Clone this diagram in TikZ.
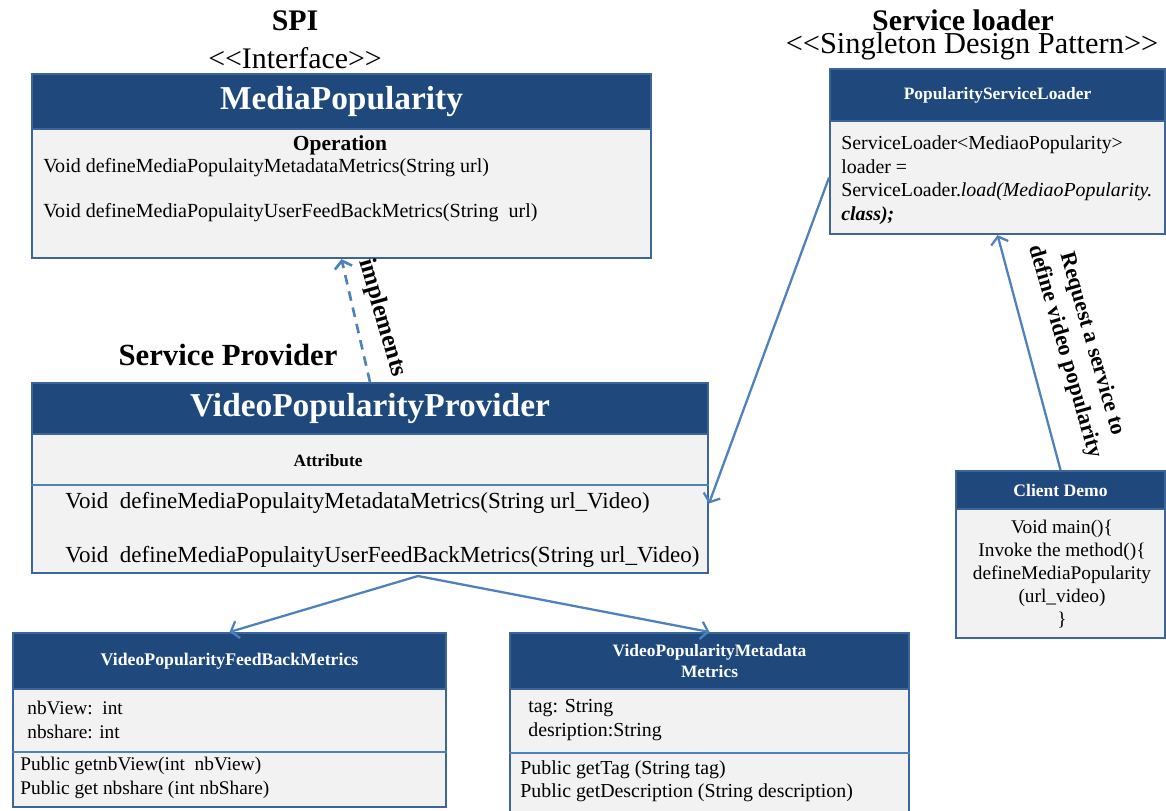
\documentclass[tikz,border=0pt]{standalone}
\usepackage{fontspec}
\setmainfont{Liberation Serif}[Ligatures=TeXOff]
\usepackage{xcolor}
\definecolor{umlHead}{HTML}{1F497D}
\definecolor{umlBody}{HTML}{F2F2F2}
\definecolor{umlEdge}{HTML}{3C659A}
\definecolor{umlLink}{HTML}{4F81BD}
\usetikzlibrary{arrows.meta}

\newcommand{\fs}[1]{\fontsize{#1}{1.2\dimexpr #1\relax}\selectfont}

\tikzset{
  classhead/.style={draw=umlEdge, line width=1.2pt, fill=umlHead, text=white,
    anchor=north west, inner sep=0pt, align=center},
  classbody/.style={draw=umlEdge, line width=1.2pt, fill=umlBody,
    anchor=north west, inner sep=0pt},
  member/.style={anchor=west, inner sep=0pt, align=left},
  sepline/.style={draw=umlLink, line width=1pt},
  link/.style={draw=umlLink, line width=1.3pt, -{Straight Barb[length=4pt,width=10pt]}},
  implink/.style={link, line width=1.5pt, dash pattern=on 5.5pt off 4pt},
}

\begin{document}
\begin{tikzpicture}[x=0.02cm, y=-0.02cm]
  \useasboundingbox (0,0) rectangle (1166,811);

  % SPI interface
  \node[font=\bfseries\fs{17pt}] (spi) at (295,21) {SPI};
  \node[font=\fs{17pt}] (spikind) at (295,58) {<<Interface>>};
  \node[classhead, minimum width=12.38cm, minimum height=1.1cm, font=\bfseries\fs{19pt}]
    (mediahead) at (31,73) {MediaPopularity};
  \node[classbody, minimum width=12.38cm, minimum height=2.58cm] (mediabody) at (31,128) {};
  \node[font=\bfseries\fs{12.2pt}] (mediaop) at (340,145) {Operation};
  \node[member, font=\fs{11.4pt}] (mediaop1) at (43,168) {Void defineMediaPopulaityMetadataMetrics(String url)};
  \node[member, font=\fs{11.4pt}] (mediaop2) at (43,213) {Void defineMediaPopulaityUserFeedBackMetrics(String\ \ url)};

  % service loader
  \node[font=\bfseries\fs{17pt}] (loadtitle) at (963,20) {Service loader};
  \node[font=\fs{17.3pt}] (loadkind) at (972,46) {<<Singleton Design Pattern>>};
  \node[classhead, minimum width=6.7cm, minimum height=1.04cm, font=\bfseries\fs{9.9pt}]
    (loadhead) at (829,68) {PopularityServiceLoader};
  \node[classbody, minimum width=6.7cm, minimum height=2.26cm] (loadbody) at (829,120) {};
  \node[member, font=\fontsize{11.3pt}{13.4pt}\selectfont] (loadcode) at (841,180)
    {ServiceLoader<MediaoPopularity>\\ loader =\\
     ServiceLoader.\textit{load(MediaoPopularity.}\\ \textbf{\textit{class);}}};

  % service provider
  \node[font=\bfseries\fs{17.5pt}] (provtitle) at (228,355) {Service Provider};
  \node[classhead, minimum width=13.52cm, minimum height=1.02cm, font=\bfseries\fs{19pt}]
    (provhead) at (31,382) {VideoPopularityProvider};
  \node[classbody, minimum width=13.52cm, minimum height=2.78cm] (provbody) at (31,433) {};
  \coordinate (provsep) at (0,485);
  \draw[sepline] (provbody.west |- provsep) -- (provbody.east |- provsep);
  \node[font=\bfseries\fs{9.8pt}] (provattr) at (328,461) {Attribute};
  \node[member, font=\fs{13.1pt}] (provop1) at (65,503) {Void\ \ defineMediaPopulaityMetadataMetrics(String url\_Video)};
  \node[member, font=\fs{13.1pt}] (provop2) at (65,557) {Void\ \ defineMediaPopulaityUserFeedBackMetrics(String url\_Video)};

  % client
  \node[classhead, minimum width=4.18cm, minimum height=0.76cm, font=\bfseries\fs{10pt}]
    (clienthead) at (955,470) {Client Demo};
  \node[classbody, minimum width=4.18cm, minimum height=2.58cm] (clientbody) at (955,508) {};
  \node[align=center, inner sep=0pt, font=\fontsize{11pt}{13pt}\selectfont] (clientcode) at (1062,574)
    {Void main()\{\\ Invoke the method()\{\\ defineMediaPopularity\\ (url\_video)\\ \}};

  % feedback metrics
  \node[classhead, minimum width=8.66cm, minimum height=1.12cm, font=\bfseries\fs{10.1pt}]
    (feedhead) at (12,632) {VideoPopularityFeedBackMetrics};
  \node[classbody, minimum width=8.66cm, minimum height=2.36cm] (feedbody) at (12,688) {};
  \coordinate (feedsep) at (0,752);
  \draw[sepline] (feedbody.west |- feedsep) -- (feedbody.east |- feedsep);
  \node[member, font=\fontsize{11pt}{13.6pt}\selectfont] (feedattr) at (27,720) {nbView:\ \ int\\ nbshare: int};
  \node[member, font=\fontsize{11pt}{13.6pt}\selectfont] (feedop) at (20,778)
    {Public getnbView(int\ \ nbView)\\ Public get nbshare (int nbShare)};

  % metadata metrics
  \node[classhead, minimum width=7.98cm, minimum height=1.12cm, font=\bfseries\fontsize{9.9pt}{12pt}\selectfont]
    (metahead) at (509,632) {VideoPopularityMetadata\\ Metrics};
  \node[classbody, minimum width=7.98cm, minimum height=2.56cm] (metabody) at (509,688) {};
  \coordinate (metasep) at (0,753);
  \draw[sepline] (metabody.west |- metasep) -- (metabody.east |- metasep);
  \node[member, font=\fontsize{11.3pt}{13.6pt}\selectfont] (metaattr) at (528,720) {tag: String\\ desription:String};
  \node[member, font=\fontsize{11.3pt}{13.2pt}\selectfont] (metaop) at (520,781)
    {Public getTag (String tag)\\ Public getDescription (String description)};

  % connectors
  \draw[implink] (provhead.north) -- (mediabody.south);
  \node[rotate=-74, font=\bfseries\fs{14pt}] (implabel) at (382,318) {implements};
  \draw[link] (loadbody.west) -- (provbody.east);
  \draw[link] (clienthead.north) -- (loadbody.south);
  \node[rotate=-74, align=center, font=\bfseries\fontsize{12.7pt}{16pt}\selectfont] (reqlabel) at (1078,348)
    {Request a service to\\ define video popularity};
  \coordinate (fork) at (418,576);
  \draw[link] (fork) -- (feedhead.north);
  \draw[link] (fork) -- (metahead.north);
\end{tikzpicture}
\end{document}
